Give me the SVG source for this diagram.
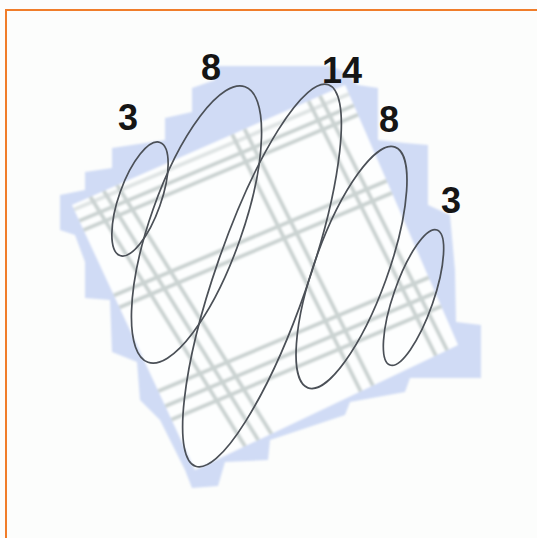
<svg xmlns="http://www.w3.org/2000/svg" width="537" height="538" viewBox="0 0 537 538">
  <style>
    .loop { fill: none; stroke: #4b5057; stroke-width: 1.7; }
    .num { font-family: "Liberation Sans", Arial, sans-serif; font-weight: bold; font-size: 36px; fill: #151515; text-anchor: middle; }
    .grid line { stroke: #cbd3d2; stroke-width: 4; stroke-linecap: butt; }
    .frame { fill: none; stroke: #f07d2a; stroke-width: 2; }
  </style>
  <defs>
    <clipPath id="sq">
      <polygon points="72,205 345,85 458,345 195,470"/>
    </clipPath>
    <filter id="soft" x="-5%" y="-5%" width="110%" height="110%">
      <feGaussianBlur stdDeviation="1"/>
    </filter>
  </defs>

  <rect x="0" y="0" width="537" height="538" fill="#fcfdfc"/>

  <g id="plate" filter="url(#soft)">
    <polygon fill="#d0dbf5" points="60,230 60,195 85,190 85,172 112,168 112,148 165,140 165,118 192,112 192,88 215,80 215,66 330,66 345,72 358,85 378,88 378,140 405,143 428,145 428,205 450,215 455,270 456,322 481,325 481,378 410,378 405,392 350,402 345,415 270,440 268,460 225,462 218,486 192,488 185,470 170,440 160,420 140,400 137,362 112,352 110,300 85,298 85,262 75,235"/>
    <polygon fill="#fdfefe" points="72,205 345,85 458,345 195,470"/>
    <g class="grid" clip-path="url(#sq)">
      <line x1="5.6" y1="60" x2="278.4" y2="500"/>
      <line x1="22.6" y1="60" x2="295.4" y2="500"/>
      <line x1="39.6" y1="60" x2="312.4" y2="500"/>
      <line x1="195" y1="60" x2="415" y2="500"/>
      <line x1="210" y1="60" x2="430" y2="500"/>
      <line x1="288" y1="60" x2="508" y2="500"/>
      <line x1="302" y1="60" x2="522" y2="500"/>
      <line x1="40" y1="223.8" x2="500" y2="30.6" opacity="0.6"/>
      <line x1="40" y1="237.3" x2="500" y2="44.1"/>
      <line x1="40" y1="248.3" x2="500" y2="55.1"/>
      <line x1="40" y1="326.5" x2="500" y2="133.3"/>
      <line x1="40" y1="340.8" x2="500" y2="147.6"/>
      <line x1="40" y1="440.8" x2="500" y2="247.6"/>
      <line x1="40" y1="458.8" x2="500" y2="265.6"/>
      <line x1="40" y1="474.8" x2="500" y2="281.6"/>
    </g>
  </g>

  <g id="loop-3-left">
    <ellipse class="loop" cx="140" cy="199" rx="21" ry="60" transform="rotate(19.5 140 199)"/>
    <text class="num" x="128" y="130">3</text>
  </g>
  <g id="loop-8-left">
    <ellipse class="loop" cx="196.5" cy="224.5" rx="46" ry="146" transform="rotate(19.4 196.5 224.5)"/>
    <text class="num" x="211" y="80">8</text>
  </g>
  <g id="loop-14">
    <ellipse class="loop" cx="262" cy="275.5" rx="46" ry="202" transform="rotate(19.2 262 275.5)"/>
    <text class="num" x="342" y="83">14</text>
  </g>
  <g id="loop-8-right">
    <ellipse class="loop" cx="351.5" cy="267.5" rx="36.5" ry="128" transform="rotate(19.9 351.5 267.5)"/>
    <text class="num" x="389" y="132">8</text>
  </g>
  <g id="loop-3-right">
    <ellipse class="loop" cx="413.5" cy="297.5" rx="20" ry="71.5" transform="rotate(19.2 413.5 297.5)"/>
    <text class="num" x="451" y="213">3</text>
  </g>

  <path class="frame" d="M6,538 L6,10 L537,10"/>
</svg>
